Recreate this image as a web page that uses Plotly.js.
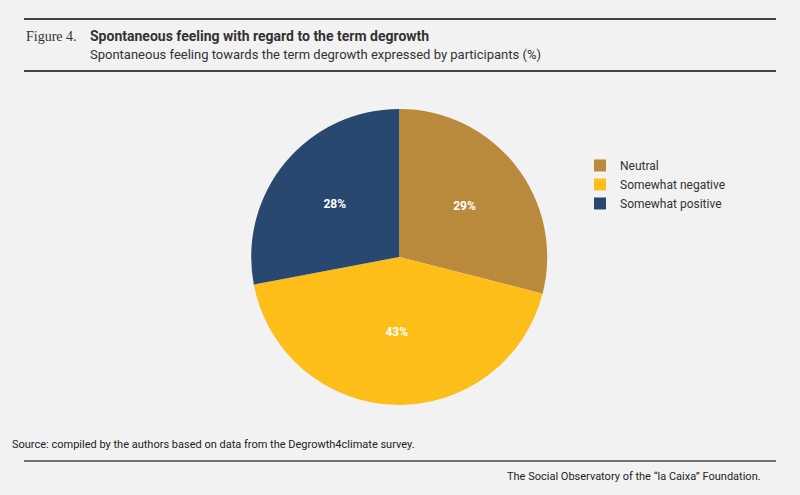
<!DOCTYPE html>
<html><head><meta charset="utf-8">
<script src="https://cdn.plot.ly/plotly-3.0.1.min.js"></script>
<style>body{margin:0;background:#f2f2f2}#c{width:800px;height:495px}</style>
</head><body><div id="c"></div>
<script>
const labels = ["Neutral", "Somewhat negative", "Somewhat positive"];
const values = [29, 43, 28];
const colors = ["#b98a3b", "#fdbe1a", "#284870"];

const trace = {
  type: "pie", labels, values, sort: false, direction: "clockwise", rotation: 0,
  marker: {colors},
  texttemplate: "%{value}%", textposition: "inside",
  insidetextfont: {color: "#fff", size: 12, family: "Roboto", weight: "bold"},
  domain: {x: [0.314, 0.684], y: [0.182, 0.78]},
  hoverinfo: "label+value"
};
const line = (y, w) => ({type: "line", xref: "paper", yref: "paper", x0: 0.03, x1: 0.97, y0: y, y1: y, line: {color: "#444", width: w}});
const layout = {
  width: 800, height: 495, margin: {l: 0, r: 0, t: 0, b: 0},
  paper_bgcolor: "#f2f2f2", plot_bgcolor: "#f2f2f2",
  font: {family: "Roboto", color: "#333"},
  showlegend: true,
  legend: {x: 0.725, y: 0.695, xanchor: "left", yanchor: "top", font: {size: 12, color: "#333"}, bgcolor: "rgba(0,0,0,0)", itemwidth: 30},
  shapes: [line(1 - 19/495, 2), line(1 - 71/495, 2), line(1 - 461/495, 1.5)],
  annotations: [
    {xref: "paper", yref: "paper", x: 0.03, y: 1 - 36/495, xanchor: "left", yanchor: "middle", showarrow: false,
     text: "Figure 4.", font: {family: "Liberation Serif", size: 14, color: "#333"}},
    {xref: "paper", yref: "paper", x: 0.11, y: 1 - 36/495, xanchor: "left", yanchor: "middle", showarrow: false,
     text: "<b>Spontaneous feeling with regard to the term degrowth</b>", font: {size: 14, color: "#333"}},
    {xref: "paper", yref: "paper", x: 0.11, y: 1 - 54/495, xanchor: "left", yanchor: "middle", showarrow: false,
     text: "Spontaneous feeling towards the term degrowth expressed by participants (%)", font: {size: 13, color: "#333"}},
    {xref: "paper", yref: "paper", x: 0.013, y: 1 - 444/495, xanchor: "left", yanchor: "middle", showarrow: false,
     text: "Source: compiled by the authors based on data from the Degrowth4climate survey.", font: {size: 11, color: "#222"}},
    {xref: "paper", yref: "paper", x: 0.954, y: 1 - 476/495, xanchor: "right", yanchor: "middle", showarrow: false,
     text: "The Social Observatory of the “la Caixa” Foundation.", font: {size: 11, color: "#222"}}
  ]
};
Plotly.newPlot("c", [trace], layout, {displayModeBar: false});
</script></body></html>
